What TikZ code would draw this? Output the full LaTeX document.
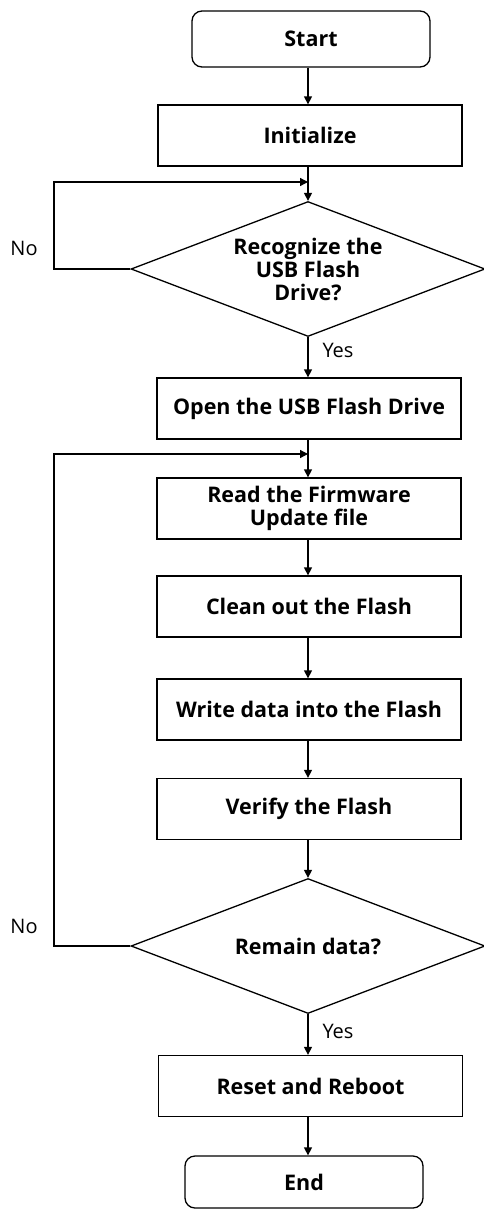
\documentclass[tikz,border=0pt]{standalone}
\usepackage{fontspec}
\setmainfont{Open Sans}
\usetikzlibrary{shapes.geometric,arrows.meta,calc}
\begin{document}
\begin{tikzpicture}[x=1pt,y=-1pt,
  every node/.style={font=\fontsize{21.5}{23}\selectfont\bfseries},
  box/.style={draw,line width=1.3pt,minimum width=304pt,minimum height=61pt,inner sep=0pt,align=center},
  term/.style={draw,line width=1.3pt,rounded corners=10pt,minimum width=238pt,minimum height=56pt,inner sep=0pt},
  dec/.style={draw,diamond,line width=1.3pt,aspect=2.64,minimum width=354pt,minimum height=135pt,inner sep=0pt,align=center},
  arr/.style={line width=1.3pt,-{Triangle[length=8pt,width=8pt]}},
  lbl/.style={font=\fontsize{20}{22}\selectfont}
]
\useasboundingbox (0,0) rectangle (484,1210);
\node[term] (start) at (311,39) {Start};
\node[box] (init) at (310,135.5) {Initialize};
\node[dec] (d1) at (308,269) {Recognize the\\USB Flash\\Drive?};
\node[box] (open) at (309,408.5) {Open the USB Flash Drive};
\node[box] (read) at (309,508.5) {Read the Firmware\\Update file};
\node[box] (clean) at (309,606.5) {Clean out the Flash};
\node[box] (write) at (309,709.5) {Write data into the Flash};
\node[box] (verify) at (309,809) {Verify the Flash};
\node[dec] (d2) at (308,946) {Remain data?};
\node[box] (reset) at (310.5,1086) {Reset and Reboot};
\node[term,minimum height=52pt] (end) at (304,1182) {End};

\coordinate (j1) at (308,182);
\coordinate (j2) at (308,454);
\coordinate (l1) at (54,269);
\coordinate (l2) at (54,946);

\draw[arr] (start.south -| 308,0) -- (init.north -| 308,0);
\draw[arr] (init.south -| 308,0) -- (d1.north);
\draw[arr] (d1.south) -- (open.north -| 308,0);
\draw[arr] (open.south -| 308,0) -- (read.north -| 308,0);
\draw[arr] (read.south -| 308,0) -- (clean.north -| 308,0);
\draw[arr] (clean.south -| 308,0) -- (write.north -| 308,0);
\draw[arr] (write.south -| 308,0) -- (verify.north -| 308,0);
\draw[arr] (verify.south -| 308,0) -- (d2.north);
\draw[arr] (d2.south) -- (reset.north -| 308,0);
\draw[arr] (reset.south -| 308,0) -- (end.north -| 308,0);

\draw[arr] (d1.west) -- (l1) -- (l1 |- j1) -- (j1);
\draw[arr] (d2.west) -- (l2) -- (l2 |- j2) -- (j2);

\node[lbl] (yes1) at (338,350) {Yes};
\node[lbl] (yes2) at (338,1031) {Yes};
\node[lbl] (no1) at (24,248) {No};
\node[lbl] (no2) at (24,926) {No};
\end{tikzpicture}
\end{document}
